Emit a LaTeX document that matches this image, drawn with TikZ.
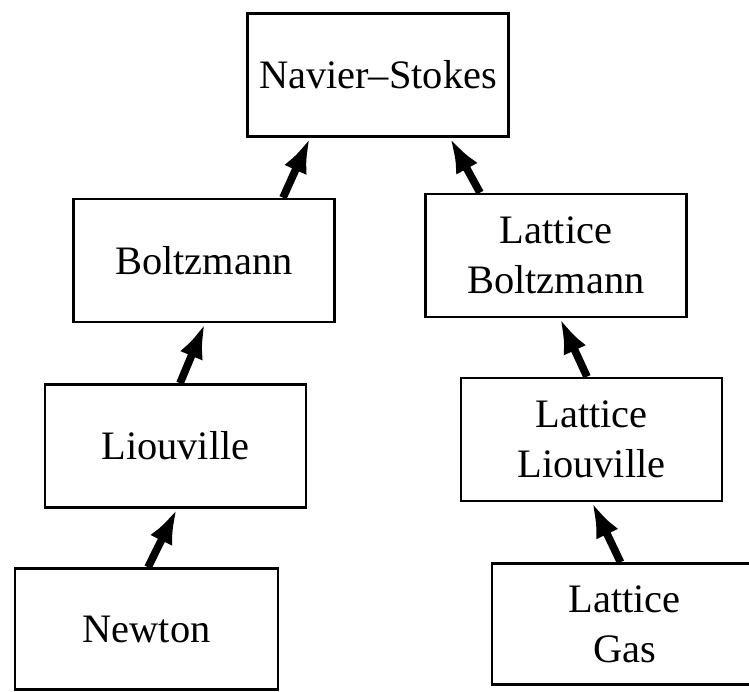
\documentclass[tikz,border=0pt]{standalone}
\usepackage{fontspec}
\setmainfont{Liberation Serif}
\usetikzlibrary{arrows.meta}

\tikzset{
  box/.style={draw, line width=1.5pt, minimum width=5.22cm, minimum height=2.46cm,
    inner sep=0pt, align=center, font=\fontsize{23}{28.5}\selectfont},
  up/.style={line width=4.4pt, -{Latex[length=20pt,width=14pt]}}
}

\begin{document}
\begin{tikzpicture}
\useasboundingbox (0,0) rectangle (14.98,-13.82);

\node[box] (ns) at (7.56,-1.50) {Navier--Stokes};
\node[box] (boltz) at (4.08,-5.21) {Boltzmann};
\node[box] (lboltz) at (11.12,-5.11) {Lattice\\Boltzmann};
\node[box] (liou) at (3.51,-8.92) {Liouville};
\node[box] (lliou) at (11.83,-8.79) {Lattice\\Liouville};
\node[box, minimum width=5.26cm, minimum height=2.42cm] (newton) at (2.93,-12.58) {Newton};
\node[box, minimum width=5.3cm, minimum height=2.42cm] (lgas) at (12.49,-12.48) {Lattice\\Gas};

\draw[up] ([xshift=0.03cm]newton.north) -- ([xshift=0.03cm]liou.south);
\draw[up] ([xshift=0.09cm]liou.north) -- ([xshift=0.02cm]boltz.south);
\draw[up] ([xshift=1.58cm]boltz.north) -- ([xshift=-1.36cm]ns.south);

\draw[up] ([xshift=-0.08cm]lgas.north) -- ([xshift=0.01cm]lliou.south);
\draw[up] ([xshift=-0.09cm]lliou.north) -- ([xshift=0.08cm]lboltz.south);
\draw[up] ([xshift=-1.52cm]lboltz.north) -- ([xshift=1.44cm]ns.south);

\end{tikzpicture}
\end{document}
